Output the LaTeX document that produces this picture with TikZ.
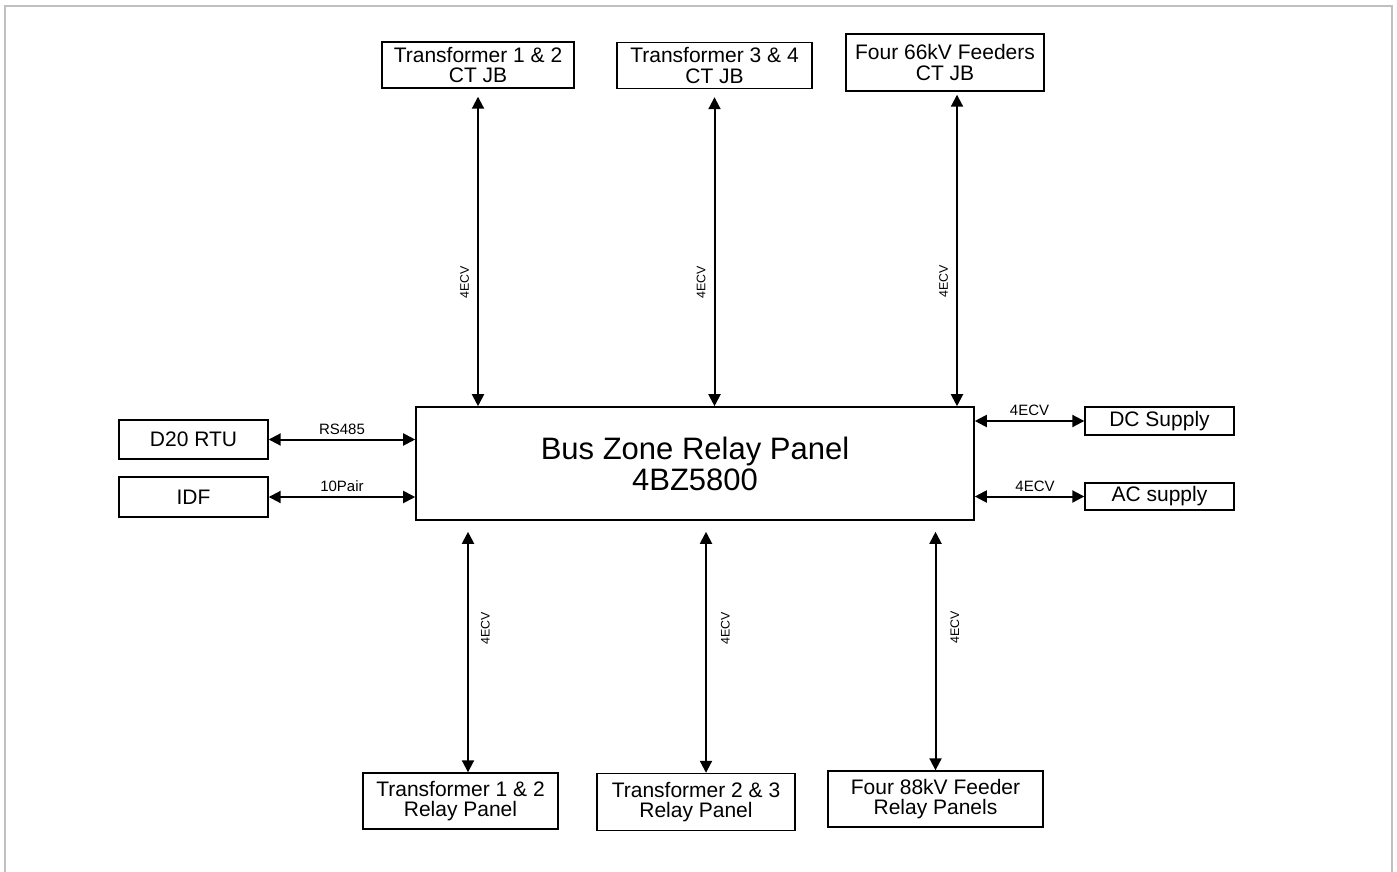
\documentclass[tikz,border=0pt]{standalone}
\usepackage{fontspec}
\setmainfont{Liberation Sans}
\usepackage{tikz}
\usepackage{xcolor}
\usetikzlibrary{arrows.meta,positioning,calc}
\definecolor{ink}{HTML}{000000}
\definecolor{framegray}{HTML}{C0C0C0}
\tikzset{
  unitbox/.style={draw=ink,fill=white,line width=0.7pt,
                  align=center,inner sep=0pt,
                  font=\fontsize{10.5}{10.2}\selectfont},
  mainbox/.style={draw=ink,fill=white,line width=0.8pt,
                  align=center,inner sep=0pt,
                  font=\fontsize{15.5}{15.5}\selectfont},
  biarr/.style={{Triangle[length=6pt,width=6pt]}-{Triangle[length=6pt,width=6pt]},
                line width=1pt,color=ink},
  hlbl/.style={font=\fontsize{7.5}{8}\selectfont,inner sep=2pt,text=ink},
  vlbl/.style={font=\fontsize{6.2}{7}\selectfont,rotate=90,text=ink}
}

\begin{document}
\begin{tikzpicture}[x=0.5pt,y=-0.5pt]
      \useasboundingbox (0,0) rectangle (1397,872);
      % outer frame, open at the bottom edge
      \draw[framegray,line width=1pt] (5,872) -- (5,6) -- (1392,6) -- (1392,872);

      % central panel
      \node[mainbox,minimum width=279pt,minimum height=56.5pt] (bzrp) at (695,463.5)
        {Bus Zone Relay Panel\\4BZ5800};

      % CT junction boxes on top
      \node[unitbox,minimum width=96pt,minimum height=23pt] (ct12) at (478,65)
        {Transformer 1 \& 2\\CT JB};
      \node[unitbox,minimum width=97.5pt,minimum height=23pt] (ct34) at (714.5,65.5)
        {Transformer 3 \& 4\\CT JB};
      \node[unitbox,minimum width=99pt,minimum height=28.5pt] (ct66) at (945,62.5)
        {Four 66kV Feeders\\CT JB};

      % relay panels at the bottom
      \node[unitbox,minimum width=97.5pt,minimum height=28pt] (rp12) at (460.5,801)
        {Transformer 1 \& 2\\Relay Panel};
      \node[unitbox,minimum width=99pt,minimum height=28.5pt] (rp23) at (696,802)
        {Transformer 2 \& 3\\Relay Panel};
      \node[unitbox,minimum width=107.5pt,minimum height=28pt] (rp88) at (935.5,799)
        {Four 88kV Feeder\\Relay Panels};

      % side units
      \node[unitbox,minimum width=74.5pt,minimum height=19.5pt] (rtu) at (193.5,439.5) {D20 RTU};
      \node[unitbox,minimum width=74.5pt,minimum height=20pt] (idf) at (193.5,497) {IDF};
      \node[unitbox,minimum width=74.5pt,minimum height=14pt] (dcs) at (1159.5,421) {DC Supply};
      \node[unitbox,minimum width=74.5pt,minimum height=13.5pt] (acs) at (1159.5,496.5) {AC supply};

      % cables from the CT junction boxes
      \draw[biarr] ($(ct12.south)+(0,8)$) -- (ct12.south |- bzrp.north)
        node[vlbl,pos=0.6,anchor=south,inner sep=4pt] {4ECV};
      \draw[biarr] ($(ct34.south)+(0,8)$) -- (ct34.south |- bzrp.north)
        node[vlbl,pos=0.6,anchor=south,inner sep=4pt] {4ECV};
      \draw[biarr] ($(ct66.south)+(12,3)$) -- ($(ct66.south |- bzrp.north)+(12,0)$)
        node[vlbl,pos=0.6,anchor=south,inner sep=4pt] {4ECV};

      % cables to the relay panels
      \draw[biarr] ($(bzrp.south -| rp12.north)+(7.5,11)$) -- ($(rp12.north)+(7.5,0)$)
        node[vlbl,pos=0.4,anchor=north,inner sep=6pt] {4ECV};
      \draw[biarr] ($(bzrp.south -| rp23.north)+(10,11)$) -- ($(rp23.north)+(10,0)$)
        node[vlbl,pos=0.4,anchor=north,inner sep=7pt] {4ECV};
      \draw[biarr] ($(bzrp.south -| rp88.north)+(0,11)$) -- (rp88.north)
        node[vlbl,pos=0.4,anchor=north,inner sep=7pt] {4ECV};

      % side links
      \draw[biarr] (rtu.east) -- (rtu.east -| bzrp.west)
        node[hlbl,midway,above] {RS485};
      \draw[biarr] (idf.east) -- (idf.east -| bzrp.west)
        node[hlbl,midway,above] {10Pair};
      \draw[biarr] (dcs.west -| bzrp.east) -- (dcs.west)
        node[hlbl,midway,above] {4ECV};
      \draw[biarr] (acs.west -| bzrp.east) -- (acs.west)
        node[hlbl,pos=0.55,above] {4ECV};
    \end{tikzpicture}
\end{document}
